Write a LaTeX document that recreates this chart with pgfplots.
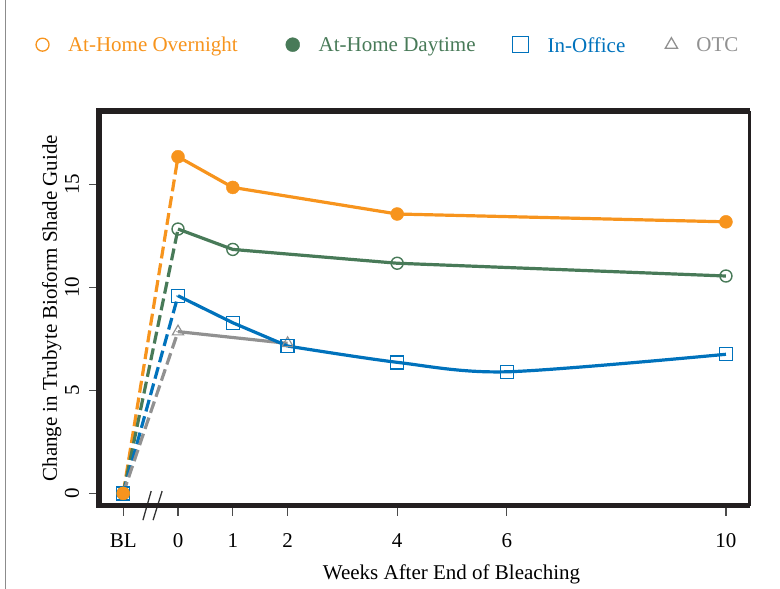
\documentclass[border=0pt]{standalone}
\usepackage{fontspec}
\setmainfont{Liberation Serif}
\usepackage{pgfplots}
\pgfplotsset{compat=1.18}

\definecolor{cOrange}{RGB}{247,148,29}
\definecolor{cGreen}{RGB}{72,122,88}
\definecolor{cBlue}{RGB}{0,114,188}
\definecolor{cGray}{RGB}{145,145,145}
\definecolor{cFrame}{RGB}{35,31,32}

\begin{document}
\fontsize{21bp}{25bp}\selectfont
\begin{tikzpicture}
\useasboundingbox (0,0) rectangle (780bp,589bp);
\draw[black!45, line width=1bp] (5bp,0) -- (5bp,589bp);
\begin{axis}[
    at={(99bp,83.5bp)}, anchor=south west,
    scale only axis,
    width=650.5bp, height=394.5bp,
    xmin=-1.442, xmax=10.43,
    ymin=-0.59, ymax=18.56,
    clip=false,
    axis line style={draw=none},
    xtick={-1,0,1,2,4,6,10},
    xticklabels={BL,0,1,2,4,6,10},
    ytick={0,5,10,15},
    xtick pos=bottom, ytick pos=left,
    tick align=outside,
    major tick length=10bp,
    tick style={line width=1.2bp, black!70},
    /pgf/number format/assume math mode=true,
    xticklabel style={anchor=base, inner sep=0pt, yshift=-32bp},
    yticklabel style={rotate=90, anchor=base, inner sep=0pt, yshift=10bp},
    xlabel={Weeks After End of Bleaching},
    xlabel style={at={(rel axis cs:0.5419,-0.187)}, anchor=base, inner sep=0pt},
    ylabel={Change in Trubyte Bioform Shade Guide},
    ylabel style={at={(rel axis cs:-0.0646,0.5)}, anchor=base, rotate=0, inner sep=0pt},
    legend columns=4,
    legend style={draw=none, fill=none, at={(rel axis cs:-0.0968,1.1681)}, anchor=west,
        inner sep=0pt, outer sep=0pt,
        nodes={inner sep=0pt, text depth=0pt},
        /tikz/every odd column/.append style={column sep=19bp},
        /tikz/column 2/.append style={column sep=48bp},
        /tikz/column 4/.append style={column sep=37bp},
        /tikz/column 6/.append style={column sep=40bp}},
    legend image code/.code={\draw[mark repeat=2,mark phase=2] plot coordinates {(0bp,0bp)(8bp,0bp)(16bp,0bp)};},
]
% legend entries (markers as shown in the key)
\addlegendimage{only marks, mark=o, mark size=6.5bp, cOrange, line width=1.3bp}
\addlegendentry{\textcolor{cOrange}{At-Home Overnight}}
\addlegendimage{only marks, mark=*, mark size=7bp, cGreen}
\addlegendentry{\textcolor{cGreen}{At-Home Daytime}}
\addlegendimage{only marks, mark=square, mark size=8bp, cBlue, line width=1.3bp}
\addlegendentry{\textcolor{cBlue}{In-Office}}
\addlegendimage{only marks, mark=triangle, mark size=7bp, cGray, line width=1.3bp}
\addlegendentry{\textcolor{cGray}{OTC}}

% dashed rise from baseline to week 0
\addplot[forget plot, cOrange, line width=3.2bp, dash pattern=on 12bp off 5bp] coordinates {(-1,0) (0,16.34)};
\addplot[forget plot, cGreen, line width=3.2bp, dash pattern=on 12bp off 5bp] coordinates {(-1,0) (0,12.83)};
\addplot[forget plot, cBlue, line width=3.2bp, dash pattern=on 12bp off 5bp] coordinates {(-1,0) (0,9.59)};
\addplot[forget plot, cGray, line width=3.2bp, dash pattern=on 12bp off 5bp] coordinates {(-1,0) (0,7.85)};

% solid follow-up lines
\addplot[forget plot, cGray, line width=3.2bp] coordinates {(0,7.85) (2,7.28)};
\addplot[forget plot, cBlue, line width=3.2bp] coordinates {(0,9.59) (1,8.28) (2,7.15)};
\addplot[forget plot, cBlue, line width=3.2bp, smooth] coordinates {(2,7.15) (4,6.36) (6,5.90) (10,6.75)};
\addplot[forget plot, cGreen, line width=3.2bp] coordinates {(0,12.83) (1,11.84) (4,11.17) (10,10.55)};
\addplot[forget plot, cOrange, line width=3.2bp] coordinates {(0,16.34) (1,14.85) (4,13.56) (10,13.18)};

% markers
\addplot[forget plot, only marks, mark=triangle, mark size=6.5bp, cGray, line width=1.2bp, fill=white] coordinates {(-1,0) (0,7.85) (2,7.28)};
\addplot[forget plot, only marks, mark=square, mark size=6.5bp, cBlue, line width=1.4bp] coordinates {(-1,0) (0,9.59) (1,8.28) (2,7.15) (4,6.36) (6,5.90) (10,6.75)};
\addplot[forget plot, only marks, mark=o, mark size=6bp, cGreen, line width=1.4bp] coordinates {(-1,0) (0,12.83) (1,11.84) (4,11.17) (10,10.55)};
\addplot[forget plot, only marks, mark=*, mark size=6.5bp, cOrange] coordinates {(-1,0) (0,16.34) (1,14.85) (4,13.56) (10,13.18)};

% axis break marks
\draw[black!80, line width=1.3bp] (axis cs:-0.64,-1.30) -- (axis cs:-0.49,0.11);
\draw[black!80, line width=1.3bp] (axis cs:-0.455,-1.30) -- (axis cs:-0.29,0.11);

% frame: heavy left, top and bottom, lighter right
\draw[cFrame, line width=3bp] (rel axis cs:1,0) -- (rel axis cs:1,1);
\draw[cFrame, line width=5.5bp] (rel axis cs:1,0) -- (rel axis cs:0,0) -- (rel axis cs:0,1) -- (rel axis cs:1,1);
\end{axis}
\end{tikzpicture}
\end{document}
